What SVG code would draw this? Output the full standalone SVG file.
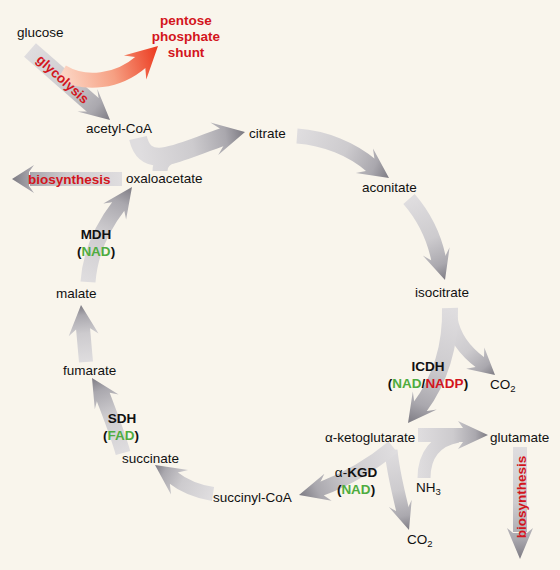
<svg xmlns="http://www.w3.org/2000/svg" width="560" height="570" viewBox="0 0 560 570">
<style>
text{font-family:"Liberation Sans",Arial,Helvetica,sans-serif;font-size:13.5px;fill:#111}
.b{font-weight:bold}
.r{fill:#d3151d;font-weight:bold}
.g{fill:#4fac3f}
.m{text-anchor:middle}
.sub{font-size:9.5px}
.body{fill:none;stroke-linejoin:round}
</style>
<defs>
<linearGradient id="gg"><stop offset="0" stop-color="#dfdddf"/><stop offset="0.5" stop-color="#cdcbce"/><stop offset="0.82" stop-color="#aaa8ae"/><stop offset="1" stop-color="#7d7b83"/></linearGradient>
<linearGradient id="rg"><stop offset="0" stop-color="#fcd6c4"/><stop offset="0.5" stop-color="#f6a083"/><stop offset="1" stop-color="#ec3b20"/></linearGradient>
<linearGradient id="a1" href="#gg" gradientUnits="userSpaceOnUse" x1="30" y1="50" x2="110" y2="120"/>
<linearGradient id="a2" href="#rg" gradientUnits="userSpaceOnUse" x1="62" y1="72" x2="157" y2="47"/>
<linearGradient id="a3" href="#gg" gradientUnits="userSpaceOnUse" x1="122" y1="179" x2="12" y2="179"/>
<linearGradient id="a4" href="#gg" gradientUnits="userSpaceOnUse" x1="140" y1="150" x2="244" y2="132"/>
<linearGradient id="a5" href="#gg" gradientUnits="userSpaceOnUse" x1="297" y1="136" x2="389" y2="178"/>
<linearGradient id="a6" href="#gg" gradientUnits="userSpaceOnUse" x1="410" y1="200" x2="445" y2="280"/>
<linearGradient id="a7" href="#gg" gradientUnits="userSpaceOnUse" x1="450" y1="308" x2="408" y2="423"/>
<linearGradient id="a7b" href="#gg" gradientUnits="userSpaceOnUse" x1="450" y1="320" x2="495" y2="375"/>
<linearGradient id="a8" href="#gg" gradientUnits="userSpaceOnUse" x1="418" y1="435" x2="488" y2="435"/>
<linearGradient id="a9" href="#gg" gradientUnits="userSpaceOnUse" x1="393" y1="448" x2="299" y2="495"/>
<linearGradient id="a9b" href="#gg" gradientUnits="userSpaceOnUse" x1="392" y1="450" x2="409" y2="530"/>
<linearGradient id="a10" href="#gg" gradientUnits="userSpaceOnUse" x1="212" y1="494" x2="155" y2="465"/>
<linearGradient id="a11" href="#gg" gradientUnits="userSpaceOnUse" x1="123" y1="453" x2="92" y2="378"/>
<linearGradient id="a12" href="#gg" gradientUnits="userSpaceOnUse" x1="86" y1="362" x2="81" y2="305"/>
<linearGradient id="a13" href="#gg" gradientUnits="userSpaceOnUse" x1="88" y1="282" x2="132" y2="187"/>
<linearGradient id="a14" href="#gg" gradientUnits="userSpaceOnUse" x1="520" y1="447" x2="520" y2="559"/>
</defs>
<rect width="560" height="570" fill="#f9f5ec"/>
<g id="connectors">
  <g id="glycolysis-arrow">
    <path class="body" d="M30,50 L94.2,106.1" stroke="url(#a1)" stroke-width="18"/>
    <polygon points="110,120 77.5,111.5 86.8,111.6 98.6,98 97.3,88.9" fill="url(#a1)"/>
  </g>
  <g id="biosynthesis-left-arrow">
    <path class="body" d="M122,179 L30,179" stroke="url(#a3)" stroke-width="14"/>
    <polygon points="12,179 34,193 29,186 29,172 34,165" fill="url(#a3)"/>
  </g>
  <g id="to-citrate">
    <path class="body" d="M138,138 C146,172 178,152 223.5,136.8" stroke="url(#a4)" stroke-width="18"/>
    <path class="body" d="M160,171 C160,162 166,157 178,154" stroke="url(#a4)" stroke-width="15"/>
    <polygon points="245,132 218.2,155 223.4,146 219.8,128.4 210.4,122.5" fill="url(#a4)"/>
  </g>
  <g id="to-aconitate">
    <path class="body" d="M297,136 C325,138 352,149 371.8,166" stroke="url(#a5)" stroke-width="15"/>
    <polygon points="389,178 355.8,173.1 365.8,171 374.4,158.6 373,148.5" fill="url(#a5)"/>
  </g>
  <g id="to-isocitrate">
    <path class="body" d="M409,199 C422,214 434,236 438.8,259.9" stroke="url(#a6)" stroke-width="15"/>
    <polygon points="445,280 422.8,255.4 431.1,260.2 445.5,255.8 449.6,247.2" fill="url(#a6)"/>
  </g>
  <g id="icdh-co2">
    <path class="body" d="M451,318 C454,338 466,352 481.3,363.3" stroke="url(#a7b)" stroke-width="13"/>
    <polygon points="495,375 466.1,368.7 475.6,366.9 484,357.1 484.3,347.5" fill="url(#a7b)"/>
  </g>
  <g id="icdh-arrow">
    <path class="body" d="M450,308 C451,345 440,380 419.4,407.8" stroke="url(#a7)" stroke-width="16"/>
    <polygon points="408,423 412.8,391.6 414.2,401.4 427,411 436.8,409.6" fill="url(#a7)"/>
  </g>
  <g id="to-glutamate">
    <path class="body" d="M424,478 C424,455 436,440 458,436" stroke="url(#a8)" stroke-width="13"/>
    <path class="body" d="M418,435 L465,435" stroke="url(#a8)" stroke-width="14"/>
    <polygon points="488,435 458,421 463,428 463,442 458,449" fill="url(#a8)"/>
  </g>
  <g id="akgd-co2">
    <path class="body" d="M391,450 C393,472 398,490 402.8,511" stroke="url(#a9b)" stroke-width="13"/>
    <polygon points="409,530 388.9,507.1 396,511.1 408.4,507.1 411.7,499.7" fill="url(#a9b)"/>
  </g>
  <g id="akgd-arrow">
    <path class="body" d="M393,447 C375,462 350,478 320.3,489.3" stroke="url(#a9)" stroke-width="14"/>
    <polygon points="299,495 324.4,473.7 320.4,482 324,495.6 331.6,500.7" fill="url(#a9)"/>
  </g>
  <g id="to-succinate">
    <path class="body" d="M213,494 C200,492 185,487 172.2,477" stroke="url(#a10)" stroke-width="14"/>
    <polygon points="155,465 188.2,469.9 177.9,472.5 169.9,483.9 171,494.5" fill="url(#a10)"/>
  </g>
  <g id="sdh-arrow">
    <path class="body" d="M123,453 C118,435 110,415 102.5,395" stroke="url(#a11)" stroke-width="15"/>
    <polygon points="92,378 118.6,394.5 109.9,392.8 97.1,400.6 94.8,409.2" fill="url(#a11)"/>
  </g>
  <g id="to-malate">
    <path class="body" d="M86,362 L82.9,326.9" stroke="url(#a12)" stroke-width="14"/>
    <polygon points="81,305 98.5,333.6 90.1,328.3 76.1,329.5 68.7,336.2" fill="url(#a12)"/>
  </g>
  <g id="mdh-arrow">
    <path class="body" d="M88,282 C90,255 100,230 119.3,205" stroke="url(#a13)" stroke-width="15"/>
    <polygon points="132,187 126.1,219.6 124.3,210.9 112.1,202.3 103.3,203.4" fill="url(#a13)"/>
  </g>
  <g id="biosynthesis-right-arrow">
    <path class="body" d="M520,447 L520,532" stroke="url(#a14)" stroke-width="14"/>
    <polygon points="520,559 507,528 513,533 527,533 533,528" fill="url(#a14)"/>
  </g>
  <g id="pentose-arrow">
    <path class="body" d="M62,72 C85,86 118,82 141.7,61.3" stroke="url(#a2)" stroke-width="15"/>
    <polygon points="158,46 146.3,79.4 145.3,68.1 135.1,57.1 123.9,55.4" fill="url(#a2)"/>
  </g>
</g>
<g id="glucose"><text x="17" y="37">glucose</text></g>
<g id="pentose"><text class="r m" x="186" y="25">pentose</text><text class="r m" x="186" y="41">phosphate</text><text class="r m" x="186" y="57">shunt</text></g>
<g id="glycolysis"><text class="r m" transform="translate(63,79) rotate(42)" x="0" y="5">glycolysis</text></g>
<g id="acetyl-coa"><text x="86" y="133">acetyl-CoA</text></g>
<g id="citrate"><text x="249" y="138">citrate</text></g>
<g id="oxaloacetate"><text x="126" y="183">oxaloacetate</text></g>
<g id="biosynthesis-left"><text class="r" x="28" y="184">biosynthesis</text></g>
<g id="aconitate"><text x="362" y="192">aconitate</text></g>
<g id="isocitrate"><text x="415" y="297">isocitrate</text></g>
<g id="mdh"><text class="b m" x="96" y="239">MDH</text><text class="b m" x="96" y="256">(<tspan class="g">NAD</tspan>)</text></g>
<g id="malate"><text x="56" y="298">malate</text></g>
<g id="fumarate"><text x="63" y="375">fumarate</text></g>
<g id="sdh"><text class="b m" x="122" y="423">SDH</text><text class="b m" x="121" y="440">(<tspan class="g">FAD</tspan>)</text></g>
<g id="succinate"><text x="122" y="463">succinate</text></g>
<g id="succinyl-coa"><text x="213" y="502">succinyl-CoA</text></g>
<g id="akgd"><text class="m" x="356" y="477">α-<tspan class="b">KGD</tspan></text><text class="b m" x="356" y="494">(<tspan class="g">NAD</tspan>)</text></g>
<g id="a-ketoglutarate"><text x="325" y="442">α-ketoglutarate</text></g>
<g id="glutamate"><text x="490" y="442">glutamate</text></g>
<g id="icdh"><text class="b m" x="428" y="371">ICDH</text><text class="b m" x="428" y="388">(<tspan class="g">NAD</tspan>/<tspan class="r">NADP</tspan>)</text></g>
<g id="co2-icdh"><text x="490" y="389">CO<tspan class="sub" dy="3">2</tspan></text></g>
<g id="nh3"><text x="416" y="492">NH<tspan class="sub" dy="3">3</tspan></text></g>
<g id="co2-akgd"><text x="407" y="544">CO<tspan class="sub" dy="3">2</tspan></text></g>
<g id="biosynthesis-right"><text class="r m" transform="translate(521,497) rotate(-90)" x="0" y="5">biosynthesis</text></g>
</svg>
